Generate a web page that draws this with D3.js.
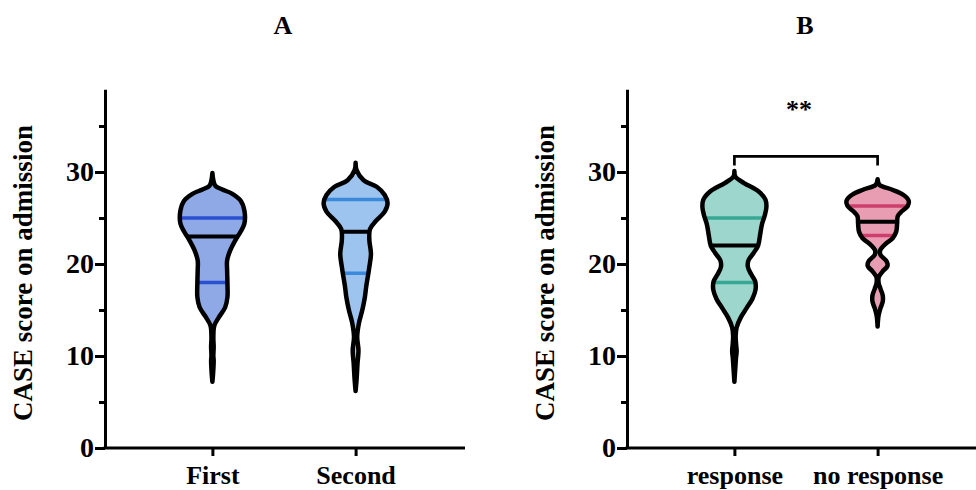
<!DOCTYPE html>
<html lang="en">
<head>
<meta charset="UTF-8">
<title>CASE score on admission</title>
<script src="https://d3js.org/d3.v7.min.js"></script>
<style>
  body { margin: 0; background: #fff; }
  svg text { font-family: "Liberation Serif", "Times New Roman", serif; font-weight: bold; fill: #000; }
</style>
</head>
<body>
<svg id="chart" width="976" height="490"></svg>
<script>
// ---- data ----
const panelTitles = ["A", "B"];
const groupsA = ["First", "Second"];
const groupsB = ["response", "no response"];
const yLabel = "CASE score on admission";
const yMax = 39;
const majorTicks = [0, 10, 20, 30];
const minorTicks = [5, 15, 25, 35];

// violin outlines: [score, relative density]
const profileFirst = [
  [29.9, 0], [29.1, .03], [28.5, .09], [28.1, .31], [27.65, .61], [26.9, .88], [25.8, 1.0],
  [24.4, 1.0], [23.5, .88], [22.6, .72], [21.5, .56], [20.4, .46], [19.3, .46], [17.9, .47],
  [16.4, .47], [15.3, .40], [14.2, .20], [13.3, .06], [12, .03], [11, .04], [10, .03],
  [9.5, .04], [8, .02], [7.2, 0]
];
const profileSecond = [
  [31, 0], [30.2, .03], [29.1, .25], [28.4, .66], [27.5, .91], [26.6, 1.0], [25.7, .91],
  [24.7, .64], [23.8, .45], [22.6, .43], [21.1, .48], [19.7, .43], [19, .40], [17.5, .33],
  [16.4, .29], [15, .21], [13.5, .10], [12.1, .05], [10.6, .09], [9.2, .06], [7.4, .03], [6.2, 0]
];
const profileResponse = [
  [30.1, 0], [29.5, .03], [28.8, .30], [27.9, .75], [27.0, .97], [26.2, 1.0], [25.3, .95],
  [24.3, .86], [23.1, .80], [22.0, .74], [21.2, .60], [20.4, .44], [19.7, .42], [18.9, .52],
  [18.1, .65], [17.2, .66], [16.2, .56], [15.2, .38], [14.2, .20], [13.1, .07], [12.2, .04],
  [11.4, .05], [10.5, .07], [9.8, .05], [8.8, .03], [7.2, 0]
];
const profileNoResponse = [
  [29.2, 0], [28.6, .06], [28.1, .44], [27.5, .81], [26.9, .97], [26.3, .94], [25.7, .75],
  [25.2, .63], [24.4, .61], [23.5, .58], [22.8, .47], [22.2, .25], [21.5, .08], [21.0, .09],
  [20.3, .28], [19.8, .31], [19.2, .16], [18.6, .04], [18.0, .03], [17.3, .09], [16.6, .16],
  [15.9, .16], [15.2, .09], [14.4, .03], [13.2, 0]
];
const profiles = {
  "First": profileFirst, "Second": profileSecond,
  "response": profileResponse, "no response": profileNoResponse
};

// [Q1, median, Q3]
const quartiles = {
  "First": [18, 23, 25], "Second": [19, 23.5, 27],
  "response": [18, 22, 25], "no response": [23.1, 24.6, 26.3]
};

const comparisons = [{ panel: 1, a: "response", b: "no response", y: 31.7, label: "**" }];

// ---- styling ----
const fillColor = {
  "First": "#8fa8e6", "Second": "#9dc4ee",
  "response": "#9dd6cc", "no response": "#e89db3"
};
const lineColor = {
  "First": "#2850d0", "Second": "#3a89dc",
  "response": "#38a895", "no response": "#cd3e6b"
};

const svg = d3.select("#chart");
const panelX = [105, 627];
const plotW = 360;
const fontSize = 26;

const y = d3.scaleLinear().domain([0, yMax]).range([448, 448 - yMax * 9.2]);
const w = d3.scaleLinear().domain([0, 1]).range([0, 32]);

[groupsA, groupsB].forEach((groups, i) => {
  const g = svg.append("g").attr("transform", `translate(${panelX[i]},0)`);

  const x = d3.scalePoint().domain(groups).range([0, 358]).padding(0.75);

  // title
  g.append("text")
    .attr("x", 178).attr("y", 34)
    .attr("text-anchor", "middle")
    .style("font-size", fontSize + "px")
    .text(panelTitles[i]);

  // y axis
  const yAxis = g.append("g")
    .call(d3.axisLeft(y).tickValues(majorTicks).tickSize(10).tickPadding(1).tickSizeOuter(0));
  yAxis.select(".domain").attr("stroke-width", 3);
  yAxis.selectAll(".tick line").attr("stroke-width", 3);
  yAxis.selectAll(".tick text").style("font-size", "28px").attr("font-family", null);

  const yMinor = g.append("g")
    .call(d3.axisLeft(y).tickValues(minorTicks).tickSize(6).tickFormat(""));
  yMinor.select(".domain").remove();
  yMinor.selectAll(".tick line").attr("stroke-width", 3);

  g.append("text")
    .attr("transform", `translate(-73,${y(0) - 175}) rotate(-90)`)
    .attr("text-anchor", "middle")
    .style("font-size", "27px")
    .text(yLabel);

  // x axis
  const xAxis = g.append("g")
    .attr("transform", `translate(0,${y(0)})`)
    .call(d3.axisBottom(x).tickSize(8).tickPadding(10));
  xAxis.select(".domain").remove();
  xAxis.selectAll(".tick line").attr("stroke-width", 3);
  xAxis.selectAll(".tick text").style("font-size", fontSize + "px").attr("font-family", null);

  g.append("line")
    .attr("x1", -1.5).attr("x2", plotW)
    .attr("y1", y(0)).attr("y2", y(0))
    .attr("stroke", "#000").attr("stroke-width", 3);

  // violins
  groups.forEach((name, j) => {
    const cx = x(name);
    const area = d3.area()
      .curve(d3.curveCatmullRom.alpha(0.5))
      .y(d => y(d[0]))
      .x0(d => cx - w(d[1]))
      .x1(d => cx + w(d[1]));
    const dPath = area(profiles[name]);
    const clipId = `clip-${i}-${j}`;

    g.append("clipPath").attr("id", clipId).append("path").attr("d", dPath);

    g.append("path").attr("d", dPath).attr("fill", fillColor[name]);

    const q = quartiles[name];
    g.append("g").attr("clip-path", `url(#${clipId})`)
      .selectAll("line")
      .data(q)
      .join("line")
      .attr("x1", cx - 45).attr("x2", cx + 45)
      .attr("y1", d => y(d)).attr("y2", d => y(d))
      .attr("stroke", (d, k) => k === 1 ? "#000" : lineColor[name])
      .attr("stroke-width", (d, k) => k === 1 ? 4 : 3.5);

    g.append("path").attr("d", dPath)
      .attr("fill", "none")
      .attr("stroke", "#000")
      .attr("stroke-width", 4.5)
      .attr("stroke-linejoin", "round");
  });

  // significance bracket
  comparisons.filter(c => c.panel === i).forEach(c => {
    const x1 = x(c.a), x2 = x(c.b);
    const yb = y(c.y), yd = y(c.y - 1);
    g.append("path")
      .attr("d", `M${x1},${yd}V${yb}H${x2}V${yd}`)
      .attr("fill", "none")
      .attr("stroke", "#000")
      .attr("stroke-width", 2.7);
    g.append("text")
      .attr("x", (x1 + x2) / 2 - 7)
      .attr("y", yb - 38)
      .attr("text-anchor", "middle")
      .style("font-size", fontSize + "px")
      .text(c.label);
  });
});
</script>
</body>
</html>
